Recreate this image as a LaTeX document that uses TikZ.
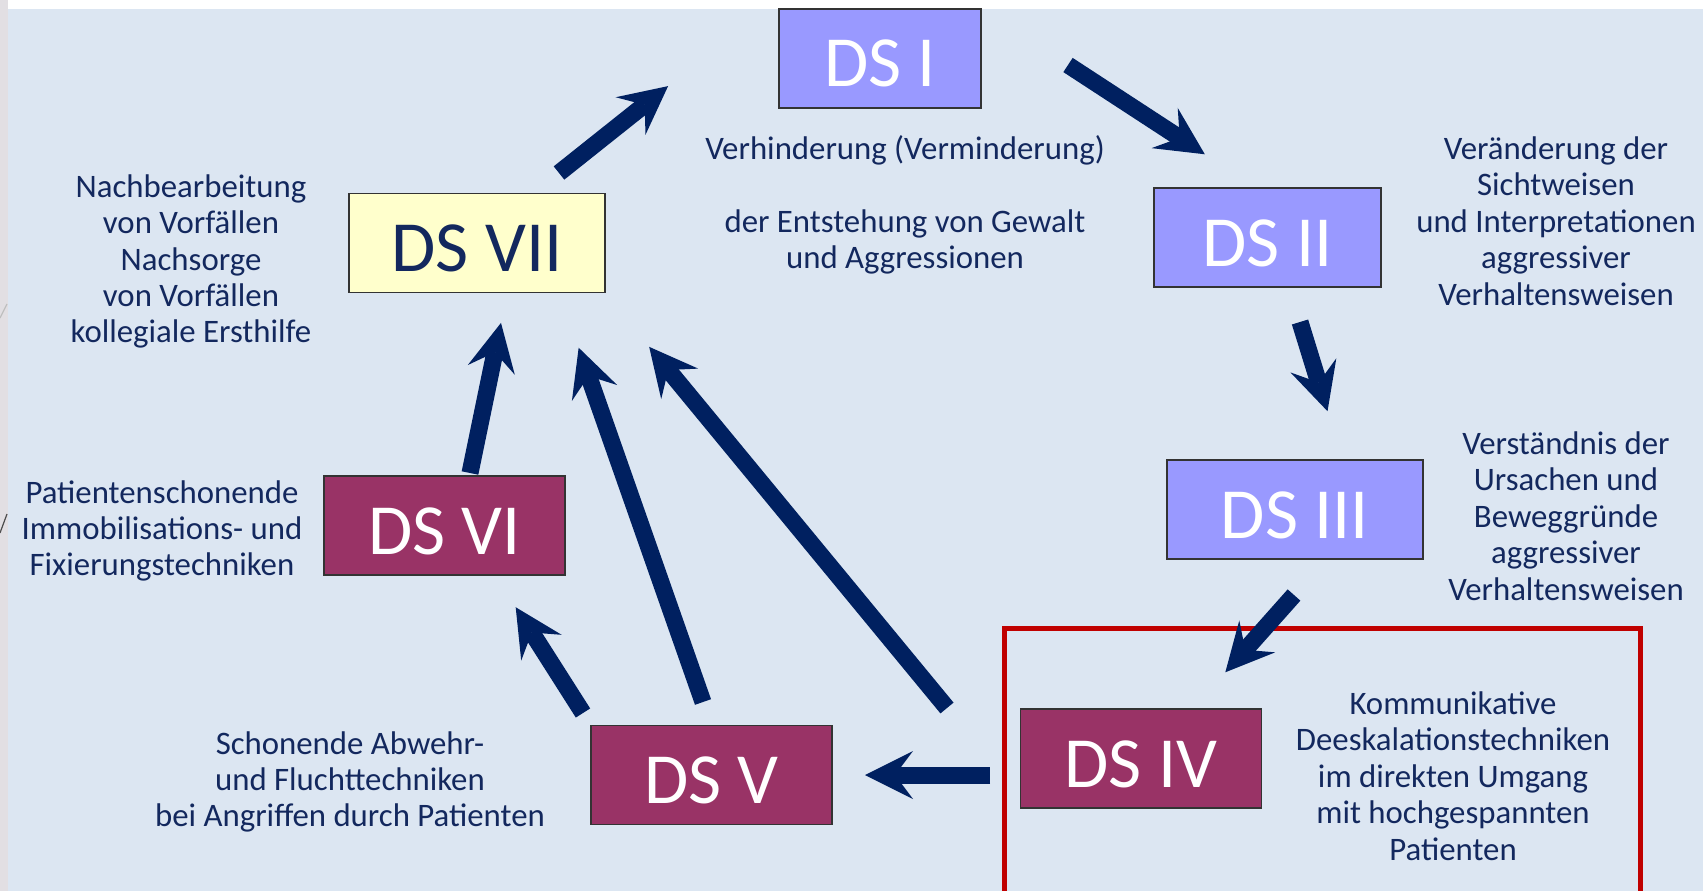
\documentclass[tikz,border=0pt]{standalone}
\usepackage{fontspec}
\setmainfont{Carlito}
\usetikzlibrary{arrows.meta}
\definecolor{bgblue}{HTML}{DCE6F2}
\definecolor{navy}{HTML}{002060}
\definecolor{txtnavy}{HTML}{13285E}
\definecolor{lilac}{HTML}{9999FF}
\definecolor{plum}{HTML}{993366}
\definecolor{paleyellow}{HTML}{FFFFCC}
\definecolor{redframe}{HTML}{C00000}
\definecolor{sidegray}{HTML}{E2DFE3}
\begin{document}
\begin{tikzpicture}[x=1pt,y=-1pt,
  dsbox/.style={draw=black!80, line width=1.5pt, minimum height=99pt, inner sep=0pt,
    text height=57pt, text depth=0pt,
    font=\fontsize{72}{80}\selectfont},
  bluebox/.style={dsbox, fill=lilac, text=white},
  plumbox/.style={dsbox, fill=plum, text=white},
  yellowbox/.style={dsbox, fill=paleyellow, text=txtnavy},
  lbl/.style={text=txtnavy, align=center, inner sep=0pt,
    font=\fontsize{32.8}{36.4}\selectfont},
  bigarrow/.style={draw=navy, line width=17pt,
    -{Stealth[length=48pt,width=48pt,inset=18pt,sep=5pt,line width=0pt]}}
]
\useasboundingbox (0,0) rectangle (1703,891);
% background
\fill[white] (0,0) rectangle (1703,891);
\fill[bgblue] (8,9) rectangle (1703,891);
\fill[sidegray] (0,0) rectangle (8,891);
\draw[black!25, line width=1.2pt] (0,318) -- (7,304);
\draw[black!70, line width=1.2pt] (0,533) -- (7,514);

% red frame
\draw[redframe, line width=5pt] (1004,895) -- (1004,628) -- (1640,628) -- (1640,895);

% boxes
\node[bluebox, minimum width=202pt] (n1) at (880,58.5) {DS I};
\node[bluebox, minimum width=227pt] (n2) at (1267.5,237.5) {DS II};
\node[bluebox, minimum width=256pt] (n3) at (1295,509.5) {DS III};
\node[plumbox, minimum width=241pt] (n4) at (1141,758.5) {DS IV};
\node[plumbox, minimum width=241pt] (n5) at (711.5,775) {DS V};
\node[plumbox, minimum width=241pt] (n6) at (444.5,525.5) {DS VI};
\node[yellowbox, minimum width=256pt] (n7) at (477,243) {DS VII};

% labels
\node[lbl] (t1) at (905,205) {Verhinderung (Verminderung)\\[0pt] \\ der Entstehung von Gewalt\\ und Aggressionen};
\node[lbl] (t2) at (1556,221) {Veränderung der\\ Sichtweisen\\ und Interpretationen\\ aggressiver\\ Verhaltensweisen};
\node[lbl] (t3) at (1566,516) {Verständnis der\\ Ursachen und\\ Beweggründe\\ aggressiver\\ Verhaltensweisen};
\node[lbl] (t4) at (1453,776) {Kommunikative\\ Deeskalationstechniken\\ im direkten Umgang\\ mit hochgespannten\\ Patienten};
\node[lbl] (t5) at (350,782) {Schonende Abwehr-\\ und Fluchttechniken\\ bei Angriffen durch Patienten};
\node[lbl] (t6) at (162,531) {Patientenschonende\\ Immobilisations- und\\ Fixierungstechniken};
\node[lbl] (t7) at (191,261.5) {Nachbearbeitung\\ von Vorfällen\\ Nachsorge\\ von Vorfällen\\ kollegiale Ersthilfe};

% arrow end points
\coordinate (a1s) at (559,173);  \coordinate (a1e) at (672,83);
\coordinate (a2s) at (1068,65);  \coordinate (a2e) at (1209,157);
\coordinate (a3s) at (1300,322); \coordinate (a3e) at (1329,416);
\coordinate (a4s) at (1294,595); \coordinate (a4e) at (1222,676);
\coordinate (a5s) at (990,775);  \coordinate (a5e) at (860,775);
\coordinate (a6s) at (583,713);  \coordinate (a6e) at (513,603);
\coordinate (a7s) at (470,473);  \coordinate (a7e) at (502,318);
\coordinate (a8s) at (703,702);  \coordinate (a8e) at (577,343);
\coordinate (a9s) at (947,708);  \coordinate (a9e) at (646,343);

\draw[bigarrow] (a1s) -- (a1e);
\draw[bigarrow] (a2s) -- (a2e);
\draw[bigarrow] (a3s) -- (a3e);
\draw[bigarrow] (a4s) -- (a4e);
\draw[bigarrow] (a5s) -- (a5e);
\draw[bigarrow] (a6s) -- (a6e);
\draw[bigarrow] (a7s) -- (a7e);
\draw[bigarrow] (a8s) -- (a8e);
\draw[bigarrow] (a9s) -- (a9e);
\end{tikzpicture}
\end{document}
